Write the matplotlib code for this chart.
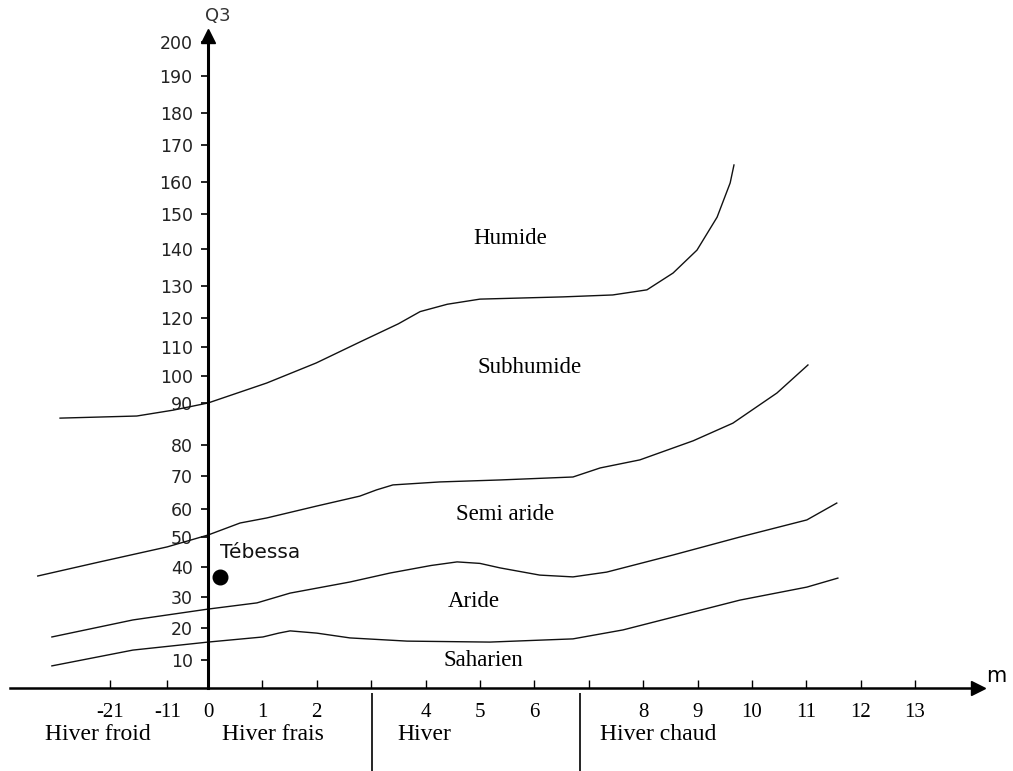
import numpy as np
import matplotlib.pyplot as plt

# ---- data (m in degC, Q3 Emberger quotient) ----
# limit Humide / Subhumide
m_hum = [-2.72, -1.31, -0.64, 0.0, 1.08, 1.99, 2.79, 3.50, 3.90, 4.40, 5.00, 6.53, 7.44, 8.07, 8.55, 8.99, 9.36, 9.60, 9.67]
q_hum = [86.4, 86.9, 88.3, 90.0, 97.4, 104.5, 111.7, 118.0, 122.0, 124.3, 125.9, 126.6, 127.2, 128.8, 133.5, 139.7, 149.1, 159.7, 164.6]
# limit Subhumide / Semi aride
m_sub = [-3.13, -1.99, -0.75, 0.0, 0.59, 1.08, 2.00, 2.79, 3.10, 3.40, 4.26, 5.37, 6.71, 7.21, 7.94, 8.92, 9.65, 10.46, 11.03]
q_sub = [37.0, 41.7, 46.7, 50.7, 55.0, 56.8, 60.9, 63.9, 65.8, 67.3, 68.2, 68.8, 69.7, 72.6, 75.2, 81.0, 85.2, 93.7, 103.8]
# limit Semi aride / Aride
m_semi = [-2.87, -1.38, 0.0, 0.90, 1.51, 2.61, 3.35, 4.10, 4.58, 5.00, 5.37, 6.10, 6.71, 7.33, 8.55, 9.78, 11.01, 11.56]
q_semi = [17.2, 22.6, 26.1, 28.1, 31.3, 35.0, 38.0, 40.5, 41.7, 41.2, 39.7, 37.3, 36.7, 38.3, 44.0, 50.0, 56.1, 61.8]
# limit Aride / Saharien
m_ari = [-2.87, -1.38, 0.0, 1.01, 1.30, 1.51, 2.00, 2.61, 3.66, 5.18, 6.71, 7.63, 8.55, 9.78, 11.01, 11.58]
q_ari = [7.9, 13.1, 15.6, 17.2, 18.4, 19.1, 18.4, 16.9, 15.9, 15.6, 16.6, 19.4, 23.5, 29.0, 33.3, 36.3]

station_name = "Tébessa"
station_m = 0.22
station_q = 36.7

zones = ["Humide", "Subhumide", "Semi aride", "Aride", "Saharien"]
zone_m = [5.55, 5.92, 5.46, 4.89, 5.06]
zone_q = [143, 103, 58.2, 28.4, 10]

winters = ["Hiver froid", "Hiver frais", "Hiver", "Hiver chaud"]
winter_m = [-3.0, 0.25, 3.49, 7.2]
winter_limits = [3.01, 6.84]

x_ticks = [-1.8, -0.75, 0, 1, 2, 3, 4, 5, 6, 7, 8, 9, 10, 11, 12, 13]
x_labels = ["-21", "-11", "0", "1", "2", "", "4", "5", "6", "", "8", "9", "10", "11", "12", "13"]
y_ticks = np.arange(0, 201, 10)
# drawn height of each Q3 graduation (the original axis is not regular)
y_tick_height = np.array([0, 28, 60, 91, 121, 151, 179, 212, 243, 285, 312,
                          341, 370, 402, 439, 474, 506, 543, 575, 612, 646], float)


def q_to_h(q):
    q = np.asarray(q, float)
    h = np.interp(q, y_ticks, y_tick_height)
    s0 = (y_tick_height[1] - y_tick_height[0]) / 10.0
    s1 = (y_tick_height[-1] - y_tick_height[-2]) / 10.0
    h = np.where(q < y_ticks[0], y_tick_height[0] + (q - y_ticks[0]) * s0, h)
    h = np.where(q > y_ticks[-1], y_tick_height[-1] + (q - y_ticks[-1]) * s1, h)
    return h


def h_to_q(h):
    h = np.asarray(h, float)
    q = np.interp(h, y_tick_height, y_ticks)
    s0 = (y_tick_height[1] - y_tick_height[0]) / 10.0
    s1 = (y_tick_height[-1] - y_tick_height[-2]) / 10.0
    q = np.where(h < y_tick_height[0], y_ticks[0] + (h - y_tick_height[0]) / s0, q)
    q = np.where(h > y_tick_height[-1], y_ticks[-1] + (h - y_tick_height[-1]) / s1, q)
    return q


serif = "Liberation Serif"
sans = "DejaVu Sans"

fig = plt.figure(figsize=(10.13, 7.71), dpi=100)
ax = fig.add_axes([0, 0, 1, 1])
ax.set_yscale("function", functions=(q_to_h, h_to_q))
ax.set_xlim(-3.824, 14.8)
ax.set_ylim(float(h_to_q(-83)), float(h_to_q(688)))

for mm, qq in [(m_hum, q_hum), (m_sub, q_sub), (m_semi, q_semi), (m_ari, q_ari)]:
    ax.plot(mm, qq, color="#111111", lw=1.0)

ax.plot(station_m, station_q, "o", color="black", ms=10.5)
ax.text(station_m, 45, station_name, fontsize=14.5, family=sans, ha="left", va="center",
        color="#111111")

for name, xm, yq in zip(zones, zone_m, zone_q):
    ax.text(xm, yq, name, fontsize=16.5, family=serif, ha="center", va="center")

bottom_q = float(h_to_q(-46))
for name, xm in zip(winters, winter_m):
    ax.text(xm, bottom_q, name, fontsize=17, family=serif, ha="left", va="center")
ax.vlines(winter_limits, float(h_to_q(-90)), float(h_to_q(-5)), color="black", lw=1.2)

# axes with arrows
for s in ["top", "right"]:
    ax.spines[s].set_visible(False)
ax.spines["left"].set_position(("data", 0))
ax.spines["bottom"].set_position(("data", 0))
ax.spines["left"].set_linewidth(2.2)
ax.spines["bottom"].set_linewidth(1.8)
ax.spines["left"].set_bounds(0, 202)
ax.spines["bottom"].set_bounds(-3.64, 14.1)
ax.plot(0, 201.8, marker="^", color="black", ms=10, clip_on=False)
ax.plot(14.15, 0, marker=">", color="black", ms=10, clip_on=False)
ax.text(0.18, 207.6, "Q3", fontsize=13, family=sans, ha="center", va="center", color="#333333")
ax.text(14.5, 4.3, "m", fontsize=15, family=sans, ha="center", va="center")

ax.set_yticks(y_ticks[1:], [str(v) for v in y_ticks[1:]])
ax.tick_params(axis="y", direction="out", length=5, width=1.2, pad=6,
               labelsize=12.5, labelcolor="#222222")
for lab in ax.get_yticklabels():
    lab.set_family(sans)
ax.set_xticks(x_ticks, x_labels)
ax.tick_params(axis="x", direction="in", length=6, width=1.0, pad=11, labelsize=15)
for lab in ax.get_xticklabels():
    lab.set_family(serif)

fig.savefig("out.png", dpi=100)
